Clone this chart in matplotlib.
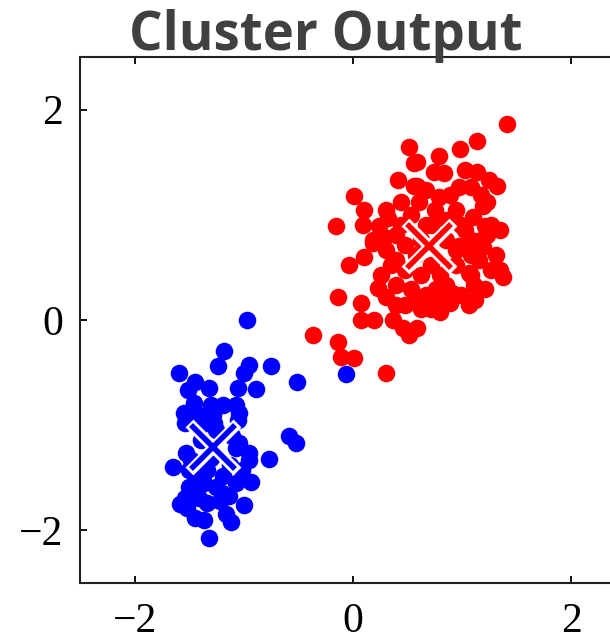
import matplotlib
matplotlib.use("Agg")
import matplotlib.pyplot as plt
import numpy as np

# ---- data ----
blue_x = [-0.97, -1.18, -1.24, -1.59, -1.45, -1.51, -1.32, -0.95, -1.00, -1.05,
          -0.89, -0.75, -0.51, -1.55, -1.46, -1.30, -1.19, -1.07, -1.04, -1.28,
          -1.41, -1.54, -1.27, -1.05, -0.59, -0.52, -0.77, -0.95, -0.95, -1.04,
          -1.53, -1.65, -1.50, -1.41, -1.50, -1.25, -1.07, -0.93, -1.14, -1.50,
          -1.41, -1.52, -1.45, -1.36, -1.16, -1.12, -1.00, -1.32, -1.34, -1.54,
          -0.06, -1.39, -1.07, -1.30, -1.13, -1.34, -1.19, -1.48, -1.02, -1.25,
          -1.39, -1.11, -1.45, -1.20, -1.58, -1.36, -1.22]
blue_y = [0.00, -0.29, -0.44, -0.50, -0.59, -0.67, -0.65, -0.43, -0.50, -0.65,
          -0.66, -0.44, -0.59, -0.88, -0.79, -0.81, -0.81, -0.81, -0.88, -0.90,
          -0.90, -0.98, -0.98, -0.95, -1.10, -1.17, -1.32, -1.26, -1.33, -1.17,
          -1.26, -1.40, -1.43, -1.50, -1.59, -1.59, -1.55, -1.54, -1.67, -1.71,
          -1.69, -1.79, -1.88, -1.90, -1.84, -1.92, -1.76, -2.07, -1.74, -1.69,
          -0.51, -1.14, -1.22, -1.31, -1.38, -1.43, -1.48, -1.33, -1.43, -1.05,
          -1.00, -1.10, -1.62, -1.64, -1.75, -1.55, -1.72]

red_x = [0.51, 0.56, 0.41, 0.56, 0.01, 0.44, 0.10, -0.16, 0.09, 0.32,
         0.24, 0.18, 0.28, 1.41, 1.14, 0.98, 0.79, 0.59, 0.74, 0.83,
         1.03, 1.14, 1.25, 1.32, 0.97, 1.08, 0.79, 0.59, 0.60, 1.23,
         1.19, 0.75, 0.94, 1.10, 1.21, 1.23, 1.03, 0.67, -0.04, 0.10,
         0.18, 0.30, -0.14, 0.07, 0.23, 0.30, 0.07, 0.19, 0.37, 0.48,
         0.51, 0.46, -0.37, -0.14, -0.11, 0.01, 0.30, 1.37, 1.35, 1.06,
         0.89, 0.71, 1.11, 1.15, 1.19, 1.06, 0.91, 0.76, 0.59, 0.97,
         0.39, 0.48, 0.58, 0.39, 0.48, 0.62, 0.80, 0.94, 1.08, 1.17,
         1.26, 1.08, 0.99, 0.85, 0.71, 0.53, 0.44, 0.35, 0.26, 0.39,
         0.53, 0.67, 0.80, 0.99, 1.12, 1.21, 1.26, 1.31, 0.85, 0.94,
         0.62, 0.71, 0.85, 1.08, 0.62, 0.80, 0.39, 0.58, 1.35, 0.30,
         1.17, 0.89, 0.67]
red_y = [1.64, 1.49, 1.33, 1.27, 1.18, 1.12, 1.05, 0.89, 0.90, 0.97,
         0.89, 0.76, 0.79, 1.86, 1.70, 1.63, 1.56, 1.50, 1.41, 1.40,
         1.43, 1.41, 1.33, 1.27, 1.26, 1.26, 1.17, 1.27, 1.12, 1.12,
         1.08, 1.05, 1.05, 0.98, 0.89, 0.81, 0.86, 0.90, 0.52, 0.60,
         0.73, 0.67, 0.22, 0.16, 0.30, 0.22, 0.00, 0.00, 0.00, 0.14,
         -0.14, -0.08, -0.14, -0.21, -0.35, -0.36, -0.50, 0.41, 0.48, 0.14,
         0.16, 0.10, 0.33, 0.57, 0.69, 0.45, 0.26, 0.29, -0.08, 0.70,
         0.81, 0.71, 0.62, 0.57, 0.48, 0.43, 0.43, 0.52, 0.62, 0.76,
         0.90, 0.76, 0.90, 0.95, 0.90, 1.00, 0.90, 0.52, 0.43, 0.33,
         0.29, 0.24, 0.24, 0.24, 0.19, 0.29, 0.48, 0.62, 0.76, 0.67,
         0.76, 0.52, 0.33, 0.43, 0.10, 0.08, 0.14, 0.19, 0.86, 1.05,
         1.19, 1.19, 1.24]

centroid_x = [-1.28, 0.70]
centroid_y = [-1.21, 0.70]
cluster_colors = ["#0000ff", "#ff0000"]

xticks = [-2, 0, 2]
yticks = [-2, 0, 2]
title = "Cluster Output"

# ---- figure ----
W, H = 610, 641
fig = plt.figure(figsize=(W / 100, H / 100), dpi=100)
ax = fig.add_axes([80 / W, 1 - 583 / H, 546 / W, 526 / H])

ax.scatter(red_x, red_y, s=160, c=cluster_colors[1], linewidths=0, zorder=2)
ax.scatter(blue_x, blue_y, s=160, c=cluster_colors[0], linewidths=0, zorder=2)

# hollow centroid crosses: white outline with cluster-coloured core
for cx, cy, col in zip(centroid_x, centroid_y, cluster_colors):
    ax.plot([cx], [cy], marker="x", markersize=35, markeredgewidth=8,
            color="white", linestyle="none", zorder=3)
    ax.plot([cx], [cy], marker="x", markersize=31, markeredgewidth=4,
            color=col, linestyle="none", zorder=4)

ax.set_xlim(-2.5, 2.5)
ax.set_ylim(-2.5, 2.5)
ax.set_xticks(xticks)
ax.set_yticks(yticks)
ax.set_xticklabels([f"\u2212{abs(t)}" if t < 0 else str(t) for t in xticks])
ax.set_yticklabels([f"\u2212{abs(t)}" if t < 0 else str(t) for t in yticks])
ax.tick_params(direction="in", length=5, width=1.3, top=True, right=True,
               labelsize=30, colors="black")
ax.tick_params(axis="x", pad=14)
ax.tick_params(axis="y", pad=12)
for lab in ax.get_xticklabels() + ax.get_yticklabels():
    lab.set_family("Liberation Serif")
for sp in ax.spines.values():
    sp.set_linewidth(1.5)
    sp.set_color("#222222")

fig.text(326 / W, 1 - 50 / H, title, ha="center", va="baseline",
         fontsize=38, fontweight="bold", color="#404040", family="Open Sans")

fig.savefig("out.png", dpi=100)
